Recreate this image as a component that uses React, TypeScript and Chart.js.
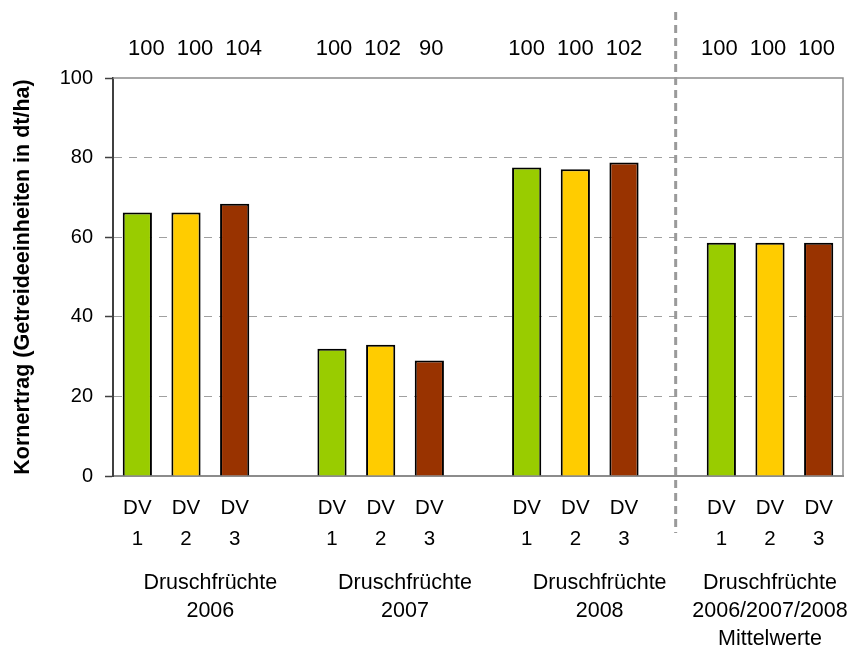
import React, { useEffect, useRef } from "react";
import { Chart, registerables } from "chart.js";

Chart.register(...registerables);

const FONT = "'Liberation Sans', Arial, Helvetica, sans-serif";

// Data
const groupLabels: string[][] = [
  ["Druschfrüchte", "2006"],
  ["Druschfrüchte", "2007"],
  ["Druschfrüchte", "2008"],
  ["Druschfrüchte", "2006/2007/2008", "Mittelwerte"],
];
const variantLabels: string[][] = [
  ["DV", "1"],
  ["DV", "2"],
  ["DV", "3"],
];
const dv1Values = [66.2, 32.0, 77.5, 58.6];
const dv2Values = [66.2, 33.0, 77.1, 58.6];
const dv3Values = [68.4, 29.0, 78.8, 58.6];
const relativeValues = [
  [100, 100, 104],
  [100, 102, 90],
  [100, 100, 102],
  [100, 100, 100],
];
const variantColors = ["#99CC00", "#FFCC00", "#993300"];
const yTicks = [0, 20, 40, 60, 80, 100];
const yTitle = "Kornertrag (Getreideeinheiten in dt/ha)";

// Layout tweaks (in slot units / pixels), not data
const groupLabelShift = [0.5, 0.5, 0.5, 0];
const topLabelShiftPx = [9, 2, 0, -2];

// Build flat category table (one empty slot between groups)
const seriesByVariant = [dv1Values, dv2Values, dv3Values];
const slotLabels: (string[] | string)[] = [];
const slotValues: (number | null)[] = [];
const slotColors: string[] = [];
const slotTopLabels: (string | null)[] = [];
const slotGroup: number[] = [];
const groupCenterSlots: number[] = [];
let separatorSlot = -1;
groupLabels.forEach((_, g) => {
  for (let v = 0; v < 3; v++) {
    if (v === 1) groupCenterSlots.push(slotLabels.length);
    slotLabels.push(variantLabels[v]);
    slotValues.push(seriesByVariant[v][g]);
    slotColors.push(variantColors[v]);
    slotTopLabels.push(String(relativeValues[g][v]));
    slotGroup.push(g);
  }
  if (g < groupLabels.length - 1) {
    if (g === groupLabels.length - 2) separatorSlot = slotLabels.length;
    slotLabels.push("");
    slotValues.push(null);
    slotColors.push("rgba(0,0,0,0)");
    slotTopLabels.push(null);
    slotGroup.push(g);
  }
});

const decorPlugin = {
  id: "decor",
  afterDraw(chart: any) {
    const { ctx, chartArea, scales } = chart;
    const x = scales.x;
    ctx.save();
    // top and right frame
    ctx.strokeStyle = "#8c8c8c";
    ctx.lineWidth = 1.5;
    ctx.beginPath();
    ctx.moveTo(chartArea.left, chartArea.top);
    ctx.lineTo(chartArea.right, chartArea.top);
    ctx.lineTo(chartArea.right, chartArea.bottom);
    ctx.stroke();

    // relative values above
    ctx.fillStyle = "#000";
    ctx.font = `22px ${FONT}`;
    ctx.textAlign = "center";
    ctx.textBaseline = "middle";
    slotTopLabels.forEach((t, i) => {
      if (t === null) return;
      ctx.fillText(t, x.getPixelForValue(i) + topLabelShiftPx[slotGroup[i]], 49);
    });

    // group labels below
    ctx.font = `21.5px ${FONT}`;
    groupLabels.forEach((lines, g) => {
      const cx = x.getPixelForValue(groupCenterSlots[g] + groupLabelShift[g]);
      lines.forEach((ln, k) => {
        ctx.fillText(ln, cx, 583 + k * 28);
      });
    });

    // vertical dashed separator
    if (separatorSlot >= 0) {
      const sx = x.getPixelForValue(separatorSlot) + 3;
      ctx.strokeStyle = "#9a9a9a";
      ctx.lineWidth = 3;
      ctx.setLineDash([8, 5]);
      ctx.beginPath();
      ctx.moveTo(sx, 12);
      ctx.lineTo(sx, 533);
      ctx.stroke();
    }
    ctx.restore();
  },
};

export default function App() {
  const ref = useRef<HTMLCanvasElement | null>(null);

  useEffect(() => {
    if (!ref.current) return;
    const chart = new Chart(ref.current, {
      type: "bar",
      data: {
        labels: slotLabels as any,
        datasets: [
          {
            data: slotValues as any,
            backgroundColor: slotColors,
            borderColor: "#000000",
            borderWidth: 2,
            barPercentage: 0.6,
            categoryPercentage: 1,
          },
        ],
      },
      options: {
        animation: false,
        responsive: false,
        maintainAspectRatio: false,
        layout: { padding: { left: 0, right: 8, top: 78, bottom: 0 } },
        plugins: {
          legend: { display: false },
          tooltip: { enabled: false },
          title: { display: false },
        },
        scales: {
          x: {
            type: "category",
            grid: { display: false, drawTicks: false },
            border: { display: true, color: "#8c8c8c", width: 2 },
            ticks: {
              color: "#000",
              font: { family: FONT, size: 20.5, lineHeight: 1.5 },
              padding: 17,
              autoSkip: false,
              maxRotation: 0,
              minRotation: 0,
            },
            afterFit(scale: any) {
              scale.height = 172;
            },
          },
          y: {
            min: 0,
            max: 100,
            afterBuildTicks(scale: any) {
              scale.ticks = yTicks.map((v) => ({ value: v }));
            },
            grid: {
              color: (c: any) =>
                c.tick && (c.tick.value === 0 || c.tick.value === 100)
                  ? "rgba(0,0,0,0)"
                  : "#a0a0a0",
              lineWidth: 1,
              drawTicks: true,
              tickLength: 8,
              tickColor: "#404040",
              tickWidth: 1.5,
            },
            border: { display: true, color: "#404040", width: 2, dash: [8, 7] },
            ticks: {
              color: "#000",
              font: { family: FONT, size: 20 },
              padding: 12,
            },
            title: {
              display: true,
              text: yTitle,
              color: "#000",
              font: { family: FONT, size: 21.5, weight: "bold" },
              padding: { top: 10, bottom: 0 },
            },
            afterFit(scale: any) {
              scale.width = 113;
            },
          },
        },
      },
      plugins: [decorPlugin],
    });
    return () => chart.destroy();
  }, []);

  return (
    <div style={{ position: "absolute", left: 0, top: 0, width: 851, height: 648, background: "#fff" }}>
      <canvas ref={ref} width={851} height={648} style={{ display: "block" }} />
    </div>
  );
}
